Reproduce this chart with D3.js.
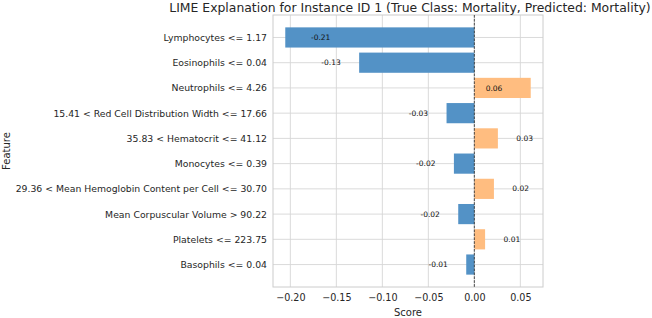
<!DOCTYPE html>
<html>
<head>
<meta charset="utf-8">
<script src="https://cdn.jsdelivr.net/npm/d3@7"></script>
<style>
  body { margin: 0; background: #fff; }
  text { font-family: "DejaVu Sans", sans-serif; }
</style>
</head>
<body>
<div id="lime_chart"></div>
<script>
// chart data
const features = [
  "Lymphocytes <= 1.17",
  "Eosinophils <= 0.04",
  "Neutrophils <= 4.26",
  "15.41 < Red Cell Distribution Width <= 17.66",
  "35.83 < Hematocrit <= 41.12",
  "Monocytes <= 0.39",
  "29.36 < Mean Hemoglobin Content per Cell <= 30.70",
  "Mean Corpuscular Volume > 90.22",
  "Platelets <= 223.75",
  "Basophils <= 0.04"
];
const scores = [-0.2055, -0.1252, 0.0613, -0.0302, 0.0256, -0.0222, 0.0213, -0.0175, 0.0117, -0.0088];
const xTicks = [-0.20, -0.15, -0.10, -0.05, 0.00, 0.05];
const titleText = "LIME Explanation for Instance ID 1 (True Class: Mortality, Predicted: Mortality)";

const width = 652, height = 318;
const margin = { top: 15, right: 109, bottom: 31, left: 273 };

const svg = d3.select("#lime_chart")
      .append("svg")
      .attr("width", width)
      .attr("height", height);

// x scale with matplotlib-like 5% margins
let ext = d3.extent(scores.concat([0]));
let pad = (ext[1] - ext[0]) * 0.05;
let x = d3.scaleLinear()
      .domain([ext[0] - pad, ext[1] + pad])
      .range([margin.left, width - margin.right]);

// y: bar index, bar height 0.8
let yPad = (features.length - 1 + 0.8) * 0.05;
let y = d3.scaleLinear()
      .domain([-0.4 - yPad, features.length - 1 + 0.4 + yPad])
      .range([margin.top, height - margin.bottom]);
let barH = y(0.4) - y(-0.4);

// grid
svg.append("g")
      .selectAll("line")
      .data(xTicks)
      .join("line")
      .attr("x1", d => x(d)).attr("x2", d => x(d))
      .attr("y1", margin.top).attr("y2", height - margin.bottom)
      .attr("stroke", "#d6d6d6")
      .attr("stroke-width", 0.9);

svg.append("g")
      .selectAll("line")
      .data(features)
      .join("line")
      .attr("x1", margin.left).attr("x2", width - margin.right)
      .attr("y1", (d, i) => y(i)).attr("y2", (d, i) => y(i))
      .attr("stroke", "#d6d6d6")
      .attr("stroke-width", 0.9);

// bars
svg.append("g")
      .selectAll("rect")
      .data(scores)
      .join("rect")
      .attr("x", d => x(Math.min(0, d)))
      .attr("width", d => Math.abs(x(d) - x(0)))
      .attr("y", (d, i) => y(i) - barH / 2)
      .attr("height", barH)
      .attr("fill", d => d < 0 ? "#5392c6" : "#ffbd80");

// frame
svg.append("rect")
      .attr("x", margin.left)
      .attr("y", margin.top)
      .attr("width", width - margin.right - margin.left)
      .attr("height", height - margin.bottom - margin.top)
      .attr("fill", "none")
      .attr("stroke", "#cccccc")
      .attr("stroke-width", 1);

// zero line
svg.append("line")
      .attr("x1", x(0)).attr("x2", x(0))
      .attr("y1", margin.top).attr("y2", height - margin.bottom)
      .attr("stroke", "#222")
      .attr("stroke-width", 0.8)
      .attr("stroke-dasharray", "2.7,1.2");

// value labels: outside the bar, or inside when it would leave the axes
let [lo, hi] = x.domain();
svg.append("g")
      .selectAll("text")
      .data(scores)
      .join("text")
      .attr("x", d => {
            let s = d < 0 ? -1 : 1;
            let v = d + s * 0.02;
            if (v < lo || v > hi) v = d - s * 0.049;
            return x(v);
      })
      .attr("y", (d, i) => y(i))
      .attr("dy", "0.35em")
      .attr("text-anchor", d => d < 0 ? "end" : "start")
      .attr("font-size", "7.5px")
      .attr("fill", "#111")
      .text(d => d.toFixed(2));

// x axis
let xAxis = svg.append("g")
      .attr("transform", `translate(0,${height - margin.bottom})`)
      .call(d3.axisBottom(x).tickValues(xTicks).tickFormat(d3.format(".2f")).tickSize(0).tickPadding(7));
xAxis.select(".domain").remove();
xAxis.selectAll("text").attr("font-size", "9.6px").attr("fill", "#262626")
      .attr("font-family", "DejaVu Sans");

// y axis
let yAxis = svg.append("g")
      .attr("transform", `translate(${margin.left},0)`)
      .call(d3.axisLeft(y).tickValues(d3.range(features.length)).tickFormat(i => features[i]).tickSize(0).tickPadding(6));
yAxis.select(".domain").remove();
yAxis.selectAll("text").attr("font-size", "9.3px").attr("fill", "#262626")
      .attr("font-family", "DejaVu Sans");

// axis titles
svg.append("text")
      .attr("x", (margin.left + width - margin.right) / 2)
      .attr("y", 316)
      .attr("text-anchor", "middle")
      .attr("font-size", "10px")
      .attr("fill", "#262626")
      .text("Score");

svg.append("text")
      .attr("transform", `translate(10,${(margin.top + height - margin.bottom) / 2}) rotate(-90)`)
      .attr("text-anchor", "middle")
      .attr("font-size", "10px")
      .attr("fill", "#262626")
      .text("Feature");

// title
svg.append("text")
      .attr("x", (margin.left + width - margin.right) / 2 + 2)
      .attr("y", 12)
      .attr("text-anchor", "middle")
      .attr("font-size", "12.4px")
      .attr("fill", "#262626")
      .text(titleText);
</script>
</body>
</html>
